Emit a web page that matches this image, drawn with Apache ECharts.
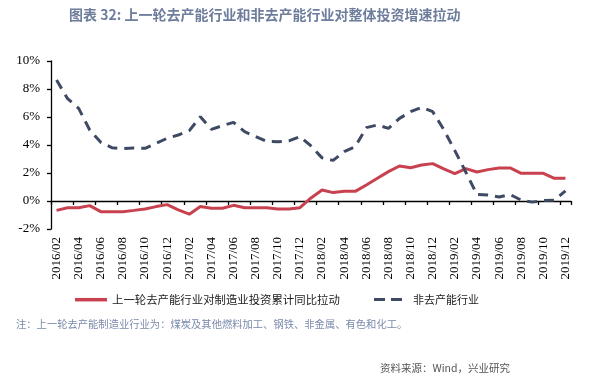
<!DOCTYPE html>
<html><head><meta charset="utf-8">
<script src="https://cdn.jsdelivr.net/npm/echarts@6/dist/echarts.min.js"></script>
<style>html,body{margin:0;padding:0;background:#fff}#c{width:599px;height:379px}</style>
</head><body><div id="c"></div>
<script>
const categories = ['2016/02','2016/03','2016/04','2016/05','2016/06','2016/07','2016/08','2016/09','2016/10','2016/11','2016/12',
'2017/01','2017/02','2017/03','2017/04','2017/05','2017/06','2017/07','2017/08','2017/09','2017/10','2017/11','2017/12',
'2018/01','2018/02','2018/03','2018/04','2018/05','2018/06','2018/07','2018/08','2018/09','2018/10','2018/11','2018/12',
'2019/01','2019/02','2019/03','2019/04','2019/05','2019/06','2019/07','2019/08','2019/09','2019/10','2019/11','2019/12'];
const seriesNames = ['上一轮去产能行业对制造业投资累计同比拉动', '非去产能行业'];
const decapacity = [-0.67,-0.48,-0.48,-0.33,-0.76,-0.76,-0.76,-0.67,-0.57,-0.40,-0.26,-0.64,-0.94,
-0.40,-0.52,-0.52,-0.31,-0.48,-0.48,-0.48,-0.57,-0.57,-0.48,
0.22,0.79,0.60,0.69,0.69,1.14,1.62,2.10,2.50,2.38,2.57,2.67,2.29,
1.95,2.31,2.07,2.24,2.36,2.36,1.98,1.98,1.98,1.62,1.62];
const nonDecapacity = [8.64,7.31,6.62,5.07,4.19,3.81,3.74,3.79,3.76,4.12,4.48,4.71,5.03,
6.02,5.12,5.38,5.62,4.95,4.60,4.26,4.24,4.29,4.60,
3.93,3.08,2.90,3.52,3.88,5.24,5.43,5.19,5.90,6.38,6.69,6.38,5.10,
3.60,2.05,0.46,0.42,0.28,0.46,0.06,-0.08,0.04,0.06,0.72];
const yTicks = {min: -2, max: 10, interval: 2};
const titleText = '图表 32: 上一轮去产能行业和非去产能行业对整体投资增速拉动';
const noteText = '注：上一轮去产能制造业行业为：煤炭及其他燃料加工、钢铁、非金属、有色和化工。';
const sourceText = '资料来源：Wind，兴业研究';

const chart = echarts.init(document.getElementById('c'), null, {renderer: 'canvas'});
const serif = '"Liberation Serif", "Times New Roman", serif';
const cjk = '"Noto Sans CJK SC", sans-serif';
chart.setOption({
  animation: false,
  backgroundColor: '#fff',
  title: {
    text: titleText, left: 64, top: 3,
    textStyle: {fontSize: 14, fontWeight: 'bold', color: '#6e7d9c', fontFamily: cjk}
  },
  grid: {left: 51, right: 28, top: 61, bottom: 150, containLabel: false},
  legend: [
    {data: [{name: seriesNames[0], icon: 'rect'}], left: 70, top: 289, itemWidth: 32, itemHeight: 3.5,
     textStyle: {fontSize: 11.4, color: '#222', fontFamily: cjk}},
    {data: [{name: seriesNames[1], icon: 'path://M0,0L11,0L11,3L0,3ZM17,0L28,0L28,3L17,3Z'}],
     left: 369, top: 289, itemWidth: 28, itemHeight: 3.5,
     textStyle: {fontSize: 11, color: '#222', fontFamily: cjk, padding: [0, 0, 0, 6]}}
  ],
  xAxis: [
    {type: 'category', data: categories, boundaryGap: true, position: 'bottom',
     axisLine: {show: false, onZero: false}, axisTick: {show: false},
     axisLabel: {rotate: 90, interval: 1, margin: 8, fontSize: 13, color: '#000', fontFamily: serif}},
    {type: 'category', data: categories, boundaryGap: true, position: 'bottom',
     axisLine: {show: true, onZero: true, lineStyle: {color: '#000', width: 1.3}},
     axisTick: {show: true, interval: 1, length: 4, lineStyle: {color: '#000', width: 1.3}},
     axisLabel: {show: false}}
  ],
  yAxis: {
    type: 'value', min: yTicks.min, max: yTicks.max, interval: yTicks.interval,
    axisLine: {show: true, lineStyle: {color: '#000', width: 1.3}},
    axisTick: {show: true, length: 4, lineStyle: {color: '#000', width: 1.3}},
    splitLine: {show: false},
    axisLabel: {formatter: '{value}%', fontSize: 13, color: '#000', fontFamily: serif, margin: 11}
  },
  series: [
    {name: seriesNames[0], type: 'line', data: decapacity, symbol: 'none',
     lineStyle: {color: '#c8414f', width: 3}, itemStyle: {color: '#c8414f'}},
    {name: seriesNames[1], type: 'line', data: nonDecapacity, symbol: 'none',
     lineStyle: {color: '#3e4a63', width: 3, type: [10, 7]}, itemStyle: {color: '#3e4a63'}}
  ],
  graphic: [
    {type: 'text', left: 16, top: 319,
     style: {text: noteText, fontSize: 10.3, fill: '#7a8aab', fontFamily: cjk}},
    {type: 'text', right: 89, top: 363,
     style: {text: sourceText, fontSize: 10.5, fill: '#555', fontFamily: cjk}}
  ]
});
</script></body></html>
